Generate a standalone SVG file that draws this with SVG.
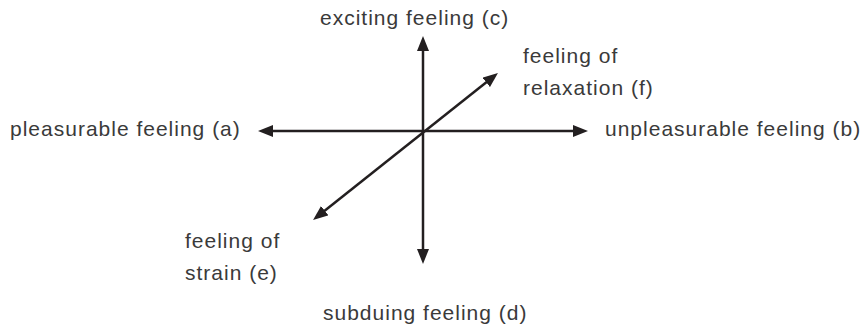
<svg xmlns="http://www.w3.org/2000/svg" width="862" height="328" viewBox="0 0 862 328">
  <defs>
    <style>
      .lbl { font-family: "Liberation Sans", Arial, sans-serif; font-size: 21px; letter-spacing: 1px; fill: #3a3a3a; }
      .axis { stroke: #231f20; stroke-width: 2.5; fill: none; marker-start: url(#head); marker-end: url(#head); }
    </style>
    <marker id="head" viewBox="0 0 15 12" markerUnits="userSpaceOnUse" markerWidth="15" markerHeight="12" refX="7" refY="6" orient="auto-start-reverse">
      <path d="M0,0 L15,6 L0,12 z" fill="#231f20"/>
    </marker>
  </defs>
  <rect width="862" height="328" fill="#ffffff"/>
  <g id="connectors">
    <line class="axis" x1="423" y1="44" x2="423" y2="256"/>
    <line class="axis" x1="266" y1="131" x2="580" y2="131"/>
    <line class="axis" x1="319.3" y1="215" x2="491.7" y2="78"/>
  </g>
  <g id="node-c"><text class="lbl" x="320" y="25">exciting feeling (c)</text></g>
  <g id="node-f"><text class="lbl" x="523" y="63">feeling of</text><text class="lbl" x="523" y="95">relaxation (f)</text></g>
  <g id="node-a"><text class="lbl" x="10" y="136">pleasurable feeling (a)</text></g>
  <g id="node-b"><text class="lbl" x="605" y="136">unpleasurable feeling (b)</text></g>
  <g id="node-e"><text class="lbl" x="185" y="248">feeling of</text><text class="lbl" x="185" y="280">strain (e)</text></g>
  <g id="node-d"><text class="lbl" x="323" y="320">subduing feeling (d)</text></g>
</svg>
